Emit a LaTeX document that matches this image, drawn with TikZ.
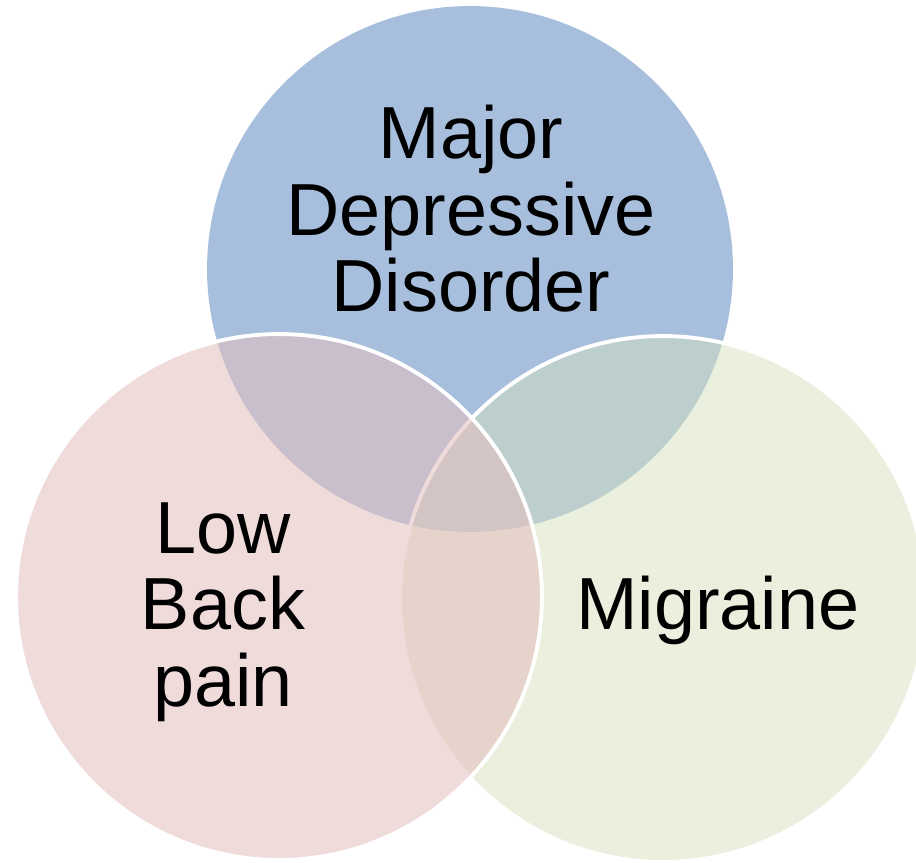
\documentclass[tikz,border=0pt]{standalone}
\usepackage{fontspec}
\setmainfont{Liberation Sans}
\usetikzlibrary{positioning}
\definecolor{mddblue}{RGB}{79,127,187}
\definecolor{lbppink}{RGB}{228,190,190}
\definecolor{miggreen}{RGB}{213,223,189}

\begin{document}
\begin{tikzpicture}[x=0.02cm, y=-0.02cm,
  set/.style={circle, minimum size=10.52cm, inner sep=0pt, fill opacity=0.5},
  rim/.style={draw=white, line width=2.2pt},
  lbl/.style={align=center, font=\fontsize{42}{43.5}\selectfont, inner sep=0pt}
]
\useasboundingbox (0,0) rectangle (916,862);
\clip (0,0) rectangle (916,862);

% the three sets (pink one on top)
\node[set, fill=mddblue] (mdd) at (470,269) {};
\node[set, rim, fill=miggreen] (mig) at (663,599) {};
\node[set, rim, fill=lbppink, fill opacity=0.55] (lbp) at (279,597) {};

% labels
\node[lbl] (mddtext) at (471,209) {Major\\Depressive\\Disorder};
\node[lbl] (lbptext) at (223,612) {Low\\Back\\pain};
\node[lbl] (migtext) at (718,610) {Migraine};
\end{tikzpicture}
\end{document}
